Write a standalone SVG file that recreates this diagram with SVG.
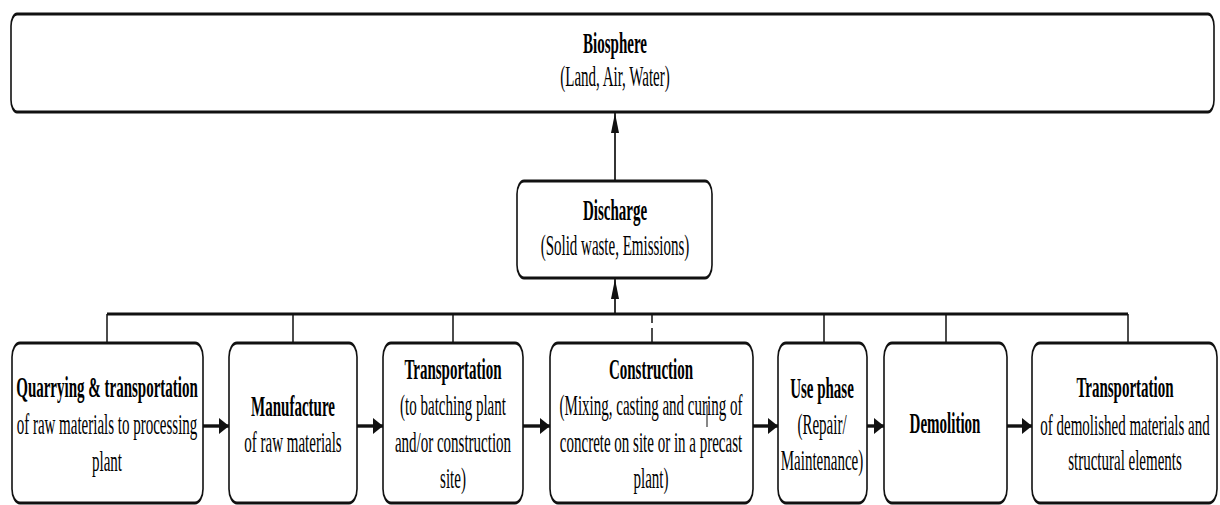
<svg xmlns="http://www.w3.org/2000/svg" width="1220" height="505" viewBox="0 0 1220 505">
  <style>
    .box { fill: #ffffff; stroke: #111111; stroke-width: 1.6; }
    .ln { fill: none; stroke: #111111; stroke-width: 1.5; }
    .arr { fill: none; stroke: #111111; stroke-width: 1.7; marker-end: url(#ah); }
    .t { font-family: "Liberation Serif", "Times New Roman", serif; font-size: 15px; text-anchor: middle; fill: #000000; }
    .b { font-weight: bold; }
  </style>
  <defs>
    <marker id="ah" markerUnits="userSpaceOnUse" viewBox="0 0 10 8" refX="10" refY="4" markerWidth="10" markerHeight="8" orient="auto">
      <path d="M0,0 L10,4 L0,8 z" fill="#111111"/>
    </marker>
  </defs>
  <rect width="1220" height="505" fill="#ffffff"/>
  <!-- the whole chart is drawn at half height and stretched vertically -->
  <g transform="scale(1,2)">
    <g id="connectors">
      <line class="arr" x1="615" y1="90.5" x2="615" y2="56.5"/>
      <line class="arr" x1="615" y1="157" x2="615" y2="139.5"/>
      <line class="ln" x1="107" y1="157" x2="1128" y2="157"/>
      <line class="ln" x1="107" y1="157" x2="107" y2="171.5"/>
      <line class="ln" x1="293" y1="157" x2="293" y2="171.5"/>
      <line class="ln" x1="453" y1="157" x2="453" y2="171.5"/>
      <line class="ln" x1="652" y1="157" x2="652" y2="161.5"/>
      <line class="ln" x1="652" y1="164" x2="652" y2="171.5"/>
      <line class="ln" x1="824" y1="157" x2="824" y2="171.5"/>
      <line class="ln" x1="946" y1="157" x2="946" y2="171.5"/>
      <line class="ln" x1="1128" y1="157" x2="1128" y2="171.5"/>
      <line class="arr" x1="203" y1="213" x2="229" y2="213"/>
      <line class="arr" x1="357" y1="213" x2="383" y2="213"/>
      <line class="arr" x1="523" y1="213" x2="550" y2="213"/>
      <line class="arr" x1="753" y1="213" x2="778" y2="213"/>
      <line class="arr" x1="867" y1="213" x2="884" y2="213"/>
      <line class="arr" x1="1007" y1="213" x2="1032" y2="213"/>
    </g>

    <g id="biosphere">
      <rect class="box" x="11" y="7" width="1203" height="49" rx="6" ry="6"/>
      <text class="t b" x="615" y="26.5">Biosphere</text>
      <text class="t" x="615" y="43">(Land, Air, Water)</text>
    </g>

    <g id="discharge">
      <rect class="box" x="517" y="90.5" width="195" height="48.5" rx="7" ry="6.5"/>
      <text class="t b" x="615" y="110">Discharge</text>
      <text class="t" x="615" y="127.5">(Solid waste, Emissions)</text>
    </g>

    <g id="quarrying">
      <rect class="box" x="12" y="171.5" width="191" height="80" rx="8" ry="7"/>
      <text class="t b" x="107" y="198.5">Quarrying &amp; transportation</text>
      <text class="t" x="107" y="217">of raw materials to processing</text>
      <text class="t" x="107" y="235.5">plant</text>
    </g>

    <g id="manufacture">
      <rect class="box" x="229" y="171.5" width="128" height="80" rx="8" ry="7"/>
      <text class="t b" x="293" y="208">Manufacture</text>
      <text class="t" x="293" y="226">of raw materials</text>
    </g>

    <g id="transport-batching">
      <rect class="box" x="383" y="171.5" width="140" height="80" rx="8" ry="7"/>
      <text class="t b" x="453" y="189.5">Transportation</text>
      <text class="t" x="453" y="207.5">(to batching plant</text>
      <text class="t" x="453" y="226">and/or construction</text>
      <text class="t" x="453" y="244">site)</text>
    </g>

    <g id="construction">
      <rect class="box" x="550" y="171.5" width="203" height="80" rx="8" ry="7"/>
      <text class="t b" x="651" y="189.5">Construction</text>
      <text class="t" x="651" y="207.5">(Mixing, casting and curing of</text>
      <text class="t" x="651" y="226">concrete on site or in a precast</text>
      <text class="t" x="651" y="244">plant)</text>
      <line x1="707" y1="202.5" x2="707" y2="213.5" stroke="#111111" stroke-width="1"/>
    </g>

    <g id="use-phase">
      <rect class="box" x="778" y="171.5" width="89" height="80" rx="8" ry="7"/>
      <text class="t b" x="822" y="199">Use phase</text>
      <text class="t" x="822" y="217">(Repair/</text>
      <text class="t" x="822" y="235">Maintenance)</text>
    </g>

    <g id="demolition">
      <rect class="box" x="884" y="171.5" width="123" height="80" rx="8" ry="7"/>
      <text class="t b" x="945" y="216.5">Demolition</text>
    </g>

    <g id="transport-demolished">
      <rect class="box" x="1032" y="171.5" width="185" height="80" rx="8" ry="7"/>
      <text class="t b" x="1125" y="198.5">Transportation</text>
      <text class="t" x="1125" y="217.5">of demolished materials and</text>
      <text class="t" x="1125" y="235">structural elements</text>
    </g>
  </g>
</svg>
